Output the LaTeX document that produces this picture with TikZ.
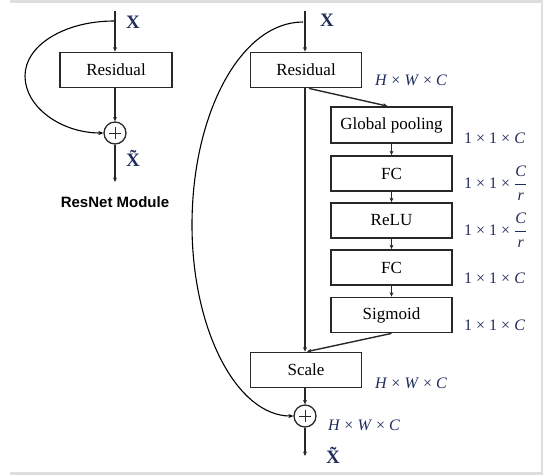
\documentclass[tikz,border=0pt]{standalone}
\usepackage{fontspec}
\setmainfont{Liberation Serif}
\newfontfamily\headsans{Liberation Sans}
\usetikzlibrary{arrows.meta}

\definecolor{dimblue}{RGB}{32,44,92}
\definecolor{edge}{RGB}{40,40,40}
\definecolor{band}{RGB}{222,222,222}

% a shape label such as 1 x 1 x C, set in the text font
\newcommand{\by}{\ \texttimes\ }
\newcommand{\fracCr}{\ensuremath{\displaystyle\frac{\textit{C}}{\textit{r}}}}

\tikzset{
  blk/.style={draw=edge, line width=1.8pt, fill=white, inner sep=0pt,
    minimum width=111pt, minimum height=35pt,
    font=\fontsize{17}{19}\selectfont},
  seblk/.style={blk, minimum width=121pt},
  addop/.style={draw=edge, circle, line width=1.3pt, minimum size=22pt, inner sep=0pt,
    path picture={
      \draw[line width=0.9pt] ([xshift=-6pt]path picture bounding box.center) -- ([xshift=6pt]path picture bounding box.center);
      \draw[line width=0.9pt] ([yshift=-6pt]path picture bounding box.center) -- ([yshift=6pt]path picture bounding box.center);
    }},
  flow/.style={draw=edge, line width=1.4pt, -{Stealth[length=4.5pt,width=4pt]}},
  skip/.style={draw=black, line width=1.1pt, -{Stealth[length=5pt,width=4pt]}},
  vec/.style={font=\bfseries\fontsize{19}{21}\selectfont, text=dimblue},
  dim/.style={font=\fontsize{16}{18}\selectfont, text=dimblue, anchor=west, inner sep=0pt},
}

\begin{document}
\begin{tikzpicture}[x=1pt, y=-1pt]
  \useasboundingbox (0,0) rectangle (543,475);
  % thin grey page edges
  \fill[band] (10,0) rectangle (543,2.5);
  \fill[band] (10,471.5) rectangle (543,475);
  \fill[band] (541,0) rectangle (543,475);

  % ---------------- ResNet module ----------------
  \coordinate (lin) at (115,11);
  \coordinate (lsplit) at (114,21);
  \node[blk, minimum width=112pt] (lres) at (116,70) {Residual};
  \node[addop] (lsum) at (115,133) {};
  \coordinate (lout) at (115,182);
  \node[vec] (lx) at (133,22) {X};
  \node[vec] (lxt) at (133,158) {\~X};
  \node[font=\headsans\bfseries\fontsize{15}{17}\selectfont] (lcap) at (115,202) {ResNet Module};

  \draw[flow] (lin) -- (lres.north -| lin);
  \draw[flow] (lres.south -| lin) -- (lsum.north);
  \draw[flow] (lsum.south) -- (lout);
  \draw[skip] (lsplit) .. controls (65,21) and (25,45) .. (25,76)
                       .. controls (25,107) and (61,133) .. (lsum.west);

  % ---------------- SE-ResNet module ----------------
  \coordinate (rin) at (305,11);
  \coordinate (rsplit) at (303,22);
  \node[blk] (rres) at (306,70) {Residual};
  \node[seblk, minimum height=36pt] (gp) at (391.5,125) {Global pooling};
  \node[seblk] (fc1) at (391.5,173.5) {FC};
  \node[seblk] (relu) at (391.5,220.5) {ReLU};
  \node[seblk] (fc2) at (391.5,267.5) {FC};
  \node[seblk] (sig) at (391.5,315) {Sigmoid};
  \node[blk] (scale) at (306,370) {Scale};
  \node[addop] (rsum) at (305,416) {};
  \coordinate (rout) at (305,456);

  \node[vec] (rx) at (327,20) {X};
  \node[vec] (rxt) at (333,455) {\~X};

  \node[dim] (d0) at (375,80) {\textit{H}\by\textit{W}\by\textit{C}};
  \node[dim] (d1) at (464,138) {1\by1\by\textit{C}};
  \node[dim] (d2) at (464,183) {1\by1\by\fracCr};
  \node[dim] (d3) at (464,230) {1\by1\by\fracCr};
  \node[dim] (d4) at (464,278) {1\by1\by\textit{C}};
  \node[dim] (d5) at (464,325) {1\by1\by\textit{C}};
  \node[dim] (d6) at (375,383) {\textit{H}\by\textit{W}\by\textit{C}};
  \node[dim] (d7) at (328,425) {\textit{H}\by\textit{W}\by\textit{C}};

  \draw[flow] (rin) -- (rres.north -| rin);
  \draw[flow] (rres.south -| rin) -- (scale.north -| rin);
  \draw[flow] ([xshift=4pt]rres.south -| rin) -- ([xshift=-4pt]gp.north);
  \draw[flow] (gp.south) -- (fc1.north);
  \draw[flow] (fc1.south) -- (relu.north);
  \draw[flow] (relu.south) -- (fc2.north);
  \draw[flow] (fc2.south) -- (sig.north);
  \draw[flow] (sig.south) -- ([xshift=2pt]scale.north -| rin);
  \draw[flow] (scale.south -| rin) -- (rsum.north);
  \draw[flow] (rsum.south) -- (rout);
  \draw[skip] (rsplit) .. controls (241,22) and (192,113) .. (192,225)
                       .. controls (192,330) and (237,416) .. (rsum.west);
\end{tikzpicture}
\end{document}
